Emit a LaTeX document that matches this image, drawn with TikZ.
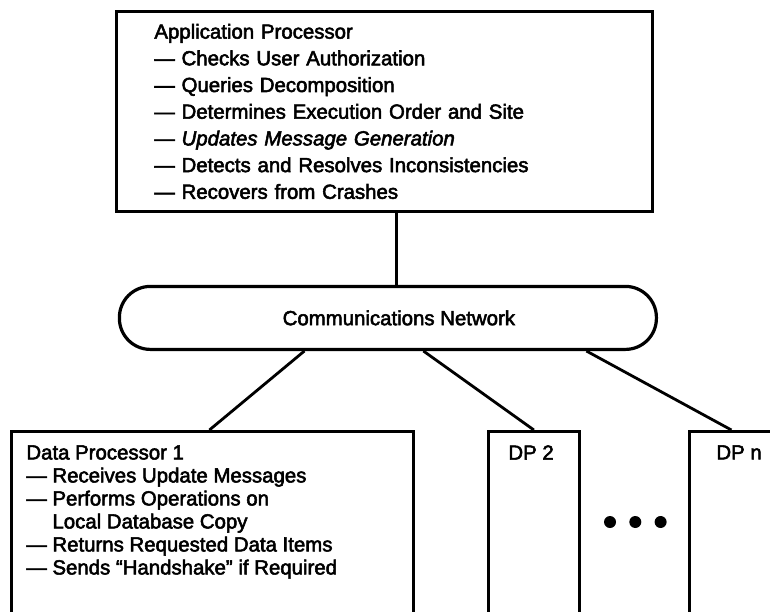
\documentclass[tikz,border=0pt]{standalone}
\usepackage{fontspec}
\setmainfont{Liberation Sans}[FakeBold=2.6]
\usetikzlibrary{positioning}

\begin{document}
\begin{tikzpicture}[x=0.5pt, y=-0.5pt, line width=1.4pt,
    procbox/.style={draw, rectangle, anchor=north west, inner ysep=7pt,
        font=\fontsize{10.2pt}{11.5pt}\selectfont},
    netbox/.style={draw, rectangle, rounded corners=15.5pt, minimum width=268.5pt,
        minimum height=31.5pt, line width=1.6pt, font=\fontsize{10.2pt}{12pt}\selectfont},
    ellipsisdot/.style={circle, fill, inner sep=0pt, minimum size=6pt}]
    % Frame
    \useasboundingbox (0,0) rectangle (770,611);
    \clip (0,0) rectangle (770,611);

    % Define nodes
    \node[draw, anchor=north west, align=left, text width=230pt, inner xsep=19pt,
        minimum height=100pt, font=\fontsize{10.2pt}{13.35pt}\selectfont] (AP) at (115,10)
        {Application Processor\\
         --- Checks User Authorization\\
         --- Queries Decomposition\\
         --- Determines Execution Order and Site\\
         --- {\itshape Updates Message Generation}\\
         --- Detects and Resolves Inconsistencies\\
         --- Recovers from Crashes};

    \node[netbox, below=36pt of AP, xshift=1.75pt] (net) {\hspace*{11pt}Communications Network};

    \node[procbox, inner xsep=7.5pt] (DP1) at (10,430)
        {\parbox[t][95pt][t]{186pt}{Data Processor 1\\
         --- Receives Update Messages\\
         --- Performs Operations on\\
         \phantom{---} Local Database Copy\\
         --- Returns Requested Data Items\\
         --- Sends ``Handshake'' if Required}};
    \node[procbox, inner xsep=10pt] (DP2) at (487,430) {\parbox[t][95pt][t]{25.5pt}{DP 2}};
    \node[procbox, inner xsep=13.5pt] (DPn) at (688,430) {\parbox[t][95pt][t]{25.5pt}{DP n}};

    \node[ellipsisdot] (dotA) at (610,522) {};
    \node[ellipsisdot, right=5.25pt of dotA] (dotB) {};
    \node[ellipsisdot, right=5.25pt of dotB] (dotC) {};

    % Connections
    \draw ([xshift=6pt]AP.south) -- ([xshift=6pt]AP.south |- net.north);
    \draw ([xshift=-41.75pt]net.south) -- ([xshift=-1.5pt]DP1.north);
    \draw ([xshift=17.75pt]net.south) -- (DP2.north);
    \draw ([xshift=99.25pt]net.south) -- ([xshift=-5.25pt]DPn.north);

\end{tikzpicture}
\end{document}
